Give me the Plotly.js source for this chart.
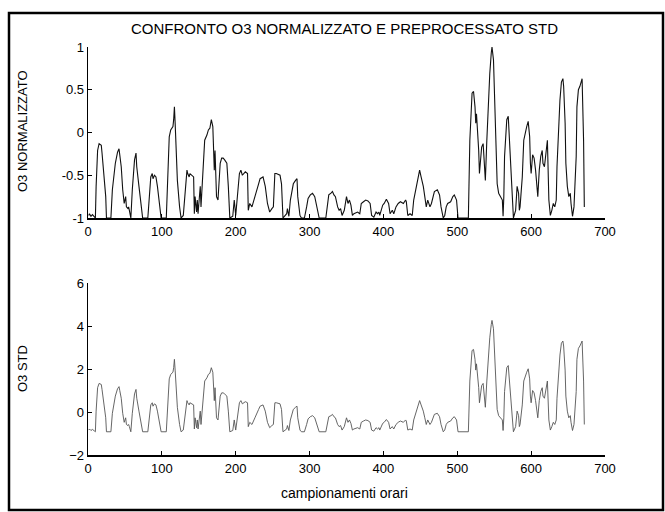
<!DOCTYPE html>
<html>
<head>
<meta charset="utf-8">
<script src="https://cdn.plot.ly/plotly-3.0.1.min.js"></script>
<style>
html,body{margin:0;padding:0;background:#fff;}
#chart{width:665px;height:512px;}
</style>
</head>
<body>
<div id="chart"></div>
<script>
// hourly samples (x)
var hours = [1,2,4,6,9,10,11,13,15,18,19,21,24,25,31,33,37,40,42,43,45,47,49,51,52,54,55,56,58,60,63,65,66,69,72,74,81,83,85,87,88,90,92,94,97,99,106,108,110,112,115,116,117,118,119,121,124,126,129,132,134,135,137,
138,140,143,144,145,147,148,149,151,152,153,155,157,158,161,163,165,167,169,170,171,172,173,174,176,179,181,183,185,188,190,192,196,198,200,202,205,207,209,213,216,217,219,222,224,226,231,233,237,240,243,246,249,251,253,255,260,262,264,269,270,272,274,278,
281,283,284,287,289,293,296,298,301,304,307,310,313,322,324,326,329,331,333,335,338,340,342,344,347,349,350,352,354,356,358,360,365,368,370,373,376,379,382,384,387,390,392,394,395,399,401,404,407,409,412,414,417,420,
423,427,430,431,433,436,439,441,445,447,449,451,454,456,458,460,463,465,467,469,473,476,478,481,483,485,487,491,494,496,499,501,515,517,520,522,524,525,526,528,529,530,532,533,535,536,538,540,542,544,546,547,549,550,552,553,554,556,559,561,562,
563,564,566,567,569,570,572,574,576,579,581,583,584,585,588,590,592,594,596,598,599,600,602,604,606,607,609,611,613,615,616,618,620,622,624,626,628,630,632,634,635,637,639,641,643,644,646,647,649,651,653,654,656,658,661,662,664,666,668,669,671,672];

// O3 normalizzato [-1, 1]
var o3Norm = [-0.97,-0.95,-0.98,-0.96,-0.99,-1,-0.63,-0.21,-0.13,-0.15,-0.24,-0.44,-0.75,-1,-1,-0.67,-0.36,-0.23,-0.19,-0.26,-0.4,-0.67,-0.83,-0.75,-0.87,-0.89,-0.87,-0.91,-1,-0.67,-0.32,-0.24,-0.4,-0.63,-0.87,-1,-1,-0.71,-0.52,-0.48,-0.54,-0.5,-0.52,-0.63,-0.87,-1,-1,-0.48,-0.05,0.03,0.07,0.15,0.30,0.11,-0.21,-0.56,-0.87,-1,-0.97,-0.6,-0.44,-0.48,-0.52,
-0.48,-0.5,-0.52,-0.95,-0.75,-0.93,-0.79,-0.95,-0.75,-0.63,-0.87,-0.56,-0.17,-0.09,-0.03,0.03,0.05,0.15,0.07,-0.17,-0.44,-0.21,-0.44,-0.75,-0.79,-0.36,-0.3,-0.3,-0.32,-0.36,-0.63,-1,-0.98,-0.79,-0.97,-0.79,-0.48,-0.44,-0.5,-0.46,-0.48,-0.91,-0.83,-0.87,-0.79,-0.75,-0.6,-0.54,-0.52,-0.63,-0.83,-0.93,-0.89,-0.87,-0.48,-0.48,-0.5,-0.6,-1,-0.95,-0.89,-0.98,-0.79,-0.6,
-0.56,-0.54,-0.75,-0.97,-1,-1,-0.87,-0.77,-0.73,-0.71,-0.75,-0.87,-1,-1,-0.83,-0.73,-0.71,-0.69,-0.73,-0.75,-0.87,-0.91,-0.89,-0.97,-0.91,-0.79,-0.75,-0.83,-0.79,-0.85,-0.97,-0.95,-0.93,-0.95,-0.83,-0.81,-0.79,-0.8,-0.83,-0.97,-0.99,-0.93,-0.95,-0.93,-0.97,-0.85,-0.83,-0.78,-0.83,-0.95,-0.91,-0.95,-0.87,-0.83,
-0.81,-0.83,-0.79,-0.81,-0.97,-0.95,-0.97,-0.79,-0.6,-0.52,-0.44,-0.52,-0.63,-0.75,-0.87,-0.79,-0.87,-0.83,-0.75,-0.69,-0.67,-0.73,-0.87,-1,-0.97,-0.87,-0.83,-0.81,-0.75,-0.73,-0.79,-1,-1,-0.09,0.46,0.48,0.30,0.11,0.22,-0.01,-0.21,-0.48,-0.28,-0.17,-0.13,-0.28,-0.56,-0.09,0.38,0.69,0.93,1.0,0.85,0.58,0.22,-0.28,-0.6,-0.71,-0.75,-0.79,-0.98,
-0.75,-0.28,0.03,0.15,0.19,0.03,-0.4,-0.75,-1,-0.91,-0.63,-0.71,-0.91,-0.87,-0.52,-0.09,0.01,0.07,0.13,-0.05,-0.36,-0.48,-0.26,-0.3,-0.44,-0.56,-0.75,-0.44,-0.28,-0.21,-0.36,-0.4,-0.21,-0.09,-0.79,-0.97,-0.91,-0.83,-0.87,-0.79,-0.4,0.03,0.38,0.59,0.63,0.54,0.11,-0.36,-0.63,-0.75,-0.71,-0.83,-0.98,-0.87,-0.28,0.30,0.50,0.54,0.59,0.63,-0.09,-0.87];

// O3 standardizzato
var o3Std = [-0.84,-0.79,-0.86,-0.81,-0.89,-0.92,0.04,1.13,1.33,1.28,1.05,0.53,-0.27,-0.92,-0.92,-0.06,0.74,1.08,1.18,1.00,0.64,-0.06,-0.48,-0.27,-0.58,-0.63,-0.58,-0.68,-0.92,-0.06,0.84,1.05,0.64,0.04,-0.58,-0.92,-0.92,-0.17,0.33,0.43,0.27,0.38,0.33,0.04,-0.58,-0.92,-0.92,0.43,1.54,1.75,1.85,2.06,2.45,1.95,1.13,0.22,-0.58,-0.92,-0.84,0.12,0.53,0.43,0.33,
0.43,0.38,0.33,-0.79,-0.27,-0.73,-0.37,-0.79,-0.27,0.04,-0.58,0.22,1.23,1.44,1.59,1.75,1.80,2.06,1.85,1.23,0.53,1.13,0.53,-0.27,-0.37,0.74,0.89,0.89,0.84,0.74,0.04,-0.92,-0.86,-0.37,-0.84,-0.37,0.43,0.53,0.38,0.48,0.43,-0.68,-0.48,-0.58,-0.37,-0.27,0.12,0.27,0.33,0.04,-0.48,-0.73,-0.63,-0.58,0.43,0.43,0.38,0.12,-0.92,-0.79,-0.63,-0.86,-0.37,0.12,
0.22,0.27,-0.27,-0.84,-0.92,-0.92,-0.58,-0.32,-0.22,-0.17,-0.27,-0.58,-0.92,-0.92,-0.48,-0.22,-0.17,-0.11,-0.22,-0.27,-0.58,-0.68,-0.63,-0.84,-0.68,-0.37,-0.27,-0.48,-0.37,-0.53,-0.84,-0.79,-0.73,-0.79,-0.48,-0.42,-0.37,-0.40,-0.48,-0.84,-0.89,-0.73,-0.79,-0.73,-0.84,-0.53,-0.48,-0.35,-0.48,-0.79,-0.68,-0.79,-0.58,-0.48,
-0.42,-0.48,-0.37,-0.42,-0.84,-0.79,-0.84,-0.37,0.12,0.33,0.53,0.33,0.04,-0.27,-0.58,-0.37,-0.58,-0.48,-0.27,-0.11,-0.06,-0.22,-0.58,-0.92,-0.84,-0.58,-0.48,-0.42,-0.27,-0.22,-0.37,-0.92,-0.92,1.44,2.86,2.91,2.45,1.95,2.24,1.64,1.13,0.43,0.95,1.23,1.33,0.95,0.22,1.44,2.65,3.45,4.07,4.26,3.87,3.17,2.24,0.95,0.12,-0.17,-0.27,-0.37,-0.86,
-0.27,0.95,1.75,2.06,2.16,1.75,0.64,-0.27,-0.92,-0.68,0.04,-0.17,-0.68,-0.58,0.33,1.44,1.70,1.85,2.01,1.54,0.74,0.43,1.00,0.89,0.53,0.22,-0.27,0.53,0.95,1.13,0.74,0.64,1.13,1.44,-0.37,-0.84,-0.68,-0.48,-0.58,-0.37,0.64,1.75,2.65,3.20,3.30,3.07,1.95,0.74,0.04,-0.27,-0.17,-0.48,-0.86,-0.58,0.95,2.45,2.96,3.07,3.20,3.30,1.44,-0.58];

var xTicks = [0,100,200,300,400,500,600,700];
var yTicksTop = [-1,-0.5,0,0.5,1];
var yTickTextTop = ['-1','-0.5','0','0.5','1'];
var yTicksBottom = [-2,0,2,4,6];

var titleText = 'CONFRONTO O3 NORMALIZZATO E PREPROCESSATO STD';
var yTitleTop = 'O3 NORMALIZZATO';
var yTitleBottom = 'O3 STD';
var xTitleBottom = 'campionamenti orari';

var W = 665, H = 512;
var FONT = 'Liberation Sans, Arial, sans-serif';

function px(x){ return x / W; }
function py(y){ return 1 - y / H; }

var traces = [
  {x: hours, y: o3Norm, type: 'scatter', mode: 'lines', xaxis: 'x', yaxis: 'y',
   line: {color: '#111', width: 1.1}, hoverinfo: 'none'},
  {x: hours, y: o3Std, type: 'scatter', mode: 'lines', xaxis: 'x2', yaxis: 'y2',
   line: {color: '#555', width: 0.9}, hoverinfo: 'none'}
];

function xAxis(anchor){
  return {domain: [px(88), px(605)], range: [0, 700], anchor: anchor,
    tickvals: xTicks, ticks: 'inside', ticklen: 4, tickcolor: '#000', tickwidth: 1,
    showline: true, linecolor: '#000', linewidth: 2, mirror: false,
    showgrid: false, zeroline: false, fixedrange: true,
    tickfont: {family: FONT, size: 13, color: '#000'}};
}

var layout = {
  width: W, height: H,
  margin: {l: 0, r: 0, t: 0, b: 0, pad: 0},
  paper_bgcolor: '#ffffff', plot_bgcolor: '#ffffff',
  showlegend: false,
  xaxis: xAxis('y'),
  xaxis2: xAxis('y2'),
  yaxis: {domain: [py(218), py(47)], range: [-1, 1], anchor: 'x',
    tickvals: yTicksTop, ticktext: yTickTextTop, ticks: 'inside', ticklen: 4, tickcolor: '#000',
    showline: true, linecolor: '#000', linewidth: 1.3, showgrid: false, zeroline: false,
    tickfont: {family: FONT, size: 13, color: '#000'}},
  yaxis2: {domain: [py(455), py(283)], range: [-2, 6], anchor: 'x2',
    tickvals: yTicksBottom, ticks: 'inside', ticklen: 4, tickcolor: '#000',
    showline: true, linecolor: '#000', linewidth: 1.3, showgrid: false, zeroline: false,
    tickfont: {family: FONT, size: 13, color: '#000'}},
  annotations: [
    {text: titleText, xref: 'paper', yref: 'paper', x: px(344), y: py(28),
     showarrow: false, xanchor: 'center', yanchor: 'middle',
     font: {family: FONT, size: 15, color: '#000'}},
    {text: yTitleTop, xref: 'paper', yref: 'paper', x: px(22), y: py(131),
     showarrow: false, textangle: -90, xanchor: 'center', yanchor: 'middle',
     font: {family: FONT, size: 13, color: '#000'}},
    {text: yTitleBottom, xref: 'paper', yref: 'paper', x: px(22), y: py(368),
     showarrow: false, textangle: -90, xanchor: 'center', yanchor: 'middle',
     font: {family: FONT, size: 13, color: '#000'}},
    {text: xTitleBottom, xref: 'paper', yref: 'paper', x: px(344), y: py(493),
     showarrow: false, xanchor: 'center', yanchor: 'middle',
     font: {family: FONT, size: 14, color: '#000'}}
  ],
  shapes: [
    {type: 'rect', xref: 'paper', yref: 'paper', x0: px(9), x1: px(663), y0: py(510), y1: py(13),
     line: {color: '#000', width: 2.5}, fillcolor: 'rgba(0,0,0,0)', layer: 'below'}
  ]
};

Plotly.newPlot('chart', traces, layout, {staticPlot: true, displayModeBar: false});
</script>
</body>
</html>
